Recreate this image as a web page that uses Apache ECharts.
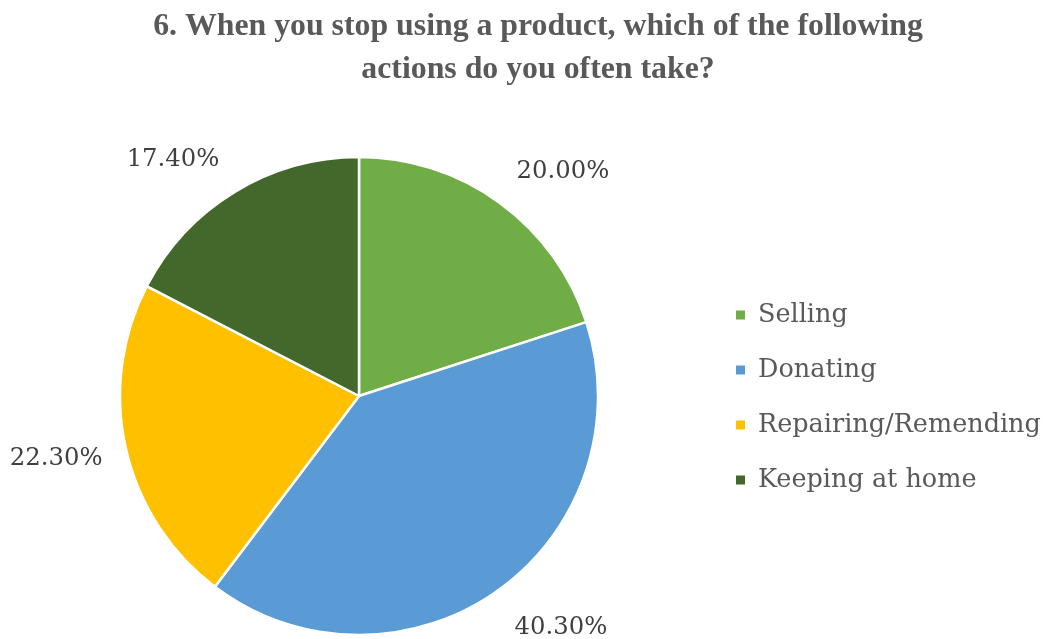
<!DOCTYPE html>
<html>
<head>
<meta charset="utf-8">
<script src="https://cdn.jsdelivr.net/npm/echarts@6/dist/echarts.min.js"></script>
<style>
  html, body { margin: 0; padding: 0; background: #ffffff; }
  #chart { width: 1048px; height: 639px; }
</style>
</head>
<body>
<div id="chart"></div>
<script>
// Survey answers (percent of respondents)
const categories = ['Selling', 'Donating', 'Repairing/Remending', 'Keeping at home'];
const shares = [20.00, 40.30, 22.30, 17.40];
const colors = ['#70AD47', '#5B9BD5', '#FFC000', '#43682B'];
const titleText = '6. When you stop using a product, which of the following\nactions do you often take?';

const TITLE_FONT = '"Liberation Serif", "DejaVu Serif", serif';
const BODY_FONT = '"DejaVu Serif", "Liberation Serif", serif';
const CX = 359, CY = 396, R = 239, LABEL_GAP = 24;

const total = shares.reduce((a, b) => a + b, 0);
// mid-angle of each slice, measured clockwise from 12 o'clock
const midAngles = [];
let acc = 0;
shares.forEach(v => {
  midAngles.push((acc + v / 2) / total * Math.PI * 2);
  acc += v;
});

// Outside-end labels: the label box corner (or edge) nearest the pie sits
// just beyond the rim along the slice's mid-angle.
function outsideEnd(p) {
  const a = midAngles[p.dataIndex];
  const s = Math.sin(a), c = Math.cos(a);
  const d = R + LABEL_GAP;
  const vAlign = c > 0.3 ? 'bottom' : (c < -0.3 ? 'top' : 'middle');
  const corner = vAlign !== 'middle';
  return {
    x: CX + d * s + (corner ? Math.sign(s) * 3 : 0),
    y: CY - d * c + (c < 0.3 ? 5 : 0),
    align: s > 0.3 ? 'left' : (s < -0.3 ? 'right' : 'center'),
    verticalAlign: vAlign
  };
}

const chart = echarts.init(document.getElementById('chart'), null, { renderer: 'canvas' });
chart.setOption({
  backgroundColor: '#ffffff',
  animation: false,
  title: {
    text: titleText,
    left: 533,
    textAlign: 'center',
    top: 0,
    textStyle: {
      fontFamily: TITLE_FONT,
      fontWeight: 'bold',
      fontSize: 31.8,
      lineHeight: 43,
      color: '#595959'
    }
  },
  legend: {
    orient: 'vertical',
    left: 734,
    top: 300,
    padding: 0,
    itemWidth: 11,
    itemHeight: 11,
    itemGap: 25,
    icon: 'rect',
    textStyle: {
      fontFamily: BODY_FONT,
      fontSize: 25.5,
      lineHeight: 30,
      color: '#595959',
      padding: [0, 0, 0, 7]
    },
    data: categories
  },
  series: [{
    type: 'pie',
    center: [CX, CY],
    radius: R,
    startAngle: 90,
    clockwise: true,
    avoidLabelOverlap: false,
    itemStyle: { borderColor: '#ffffff', borderWidth: 2.5 },
    label: {
      show: true,
      position: 'outside',
      formatter: p => p.value.toFixed(2) + '%',
      fontFamily: BODY_FONT,
      fontSize: 24.3,
      color: '#404040'
    },
    labelLine: { show: false },
    labelLayout: outsideEnd,
    emphasis: { disabled: true },
    data: categories.map((name, i) => ({
      name: name,
      value: shares[i],
      itemStyle: { color: colors[i] }
    }))
  }]
});
</script>
</body>
</html>
